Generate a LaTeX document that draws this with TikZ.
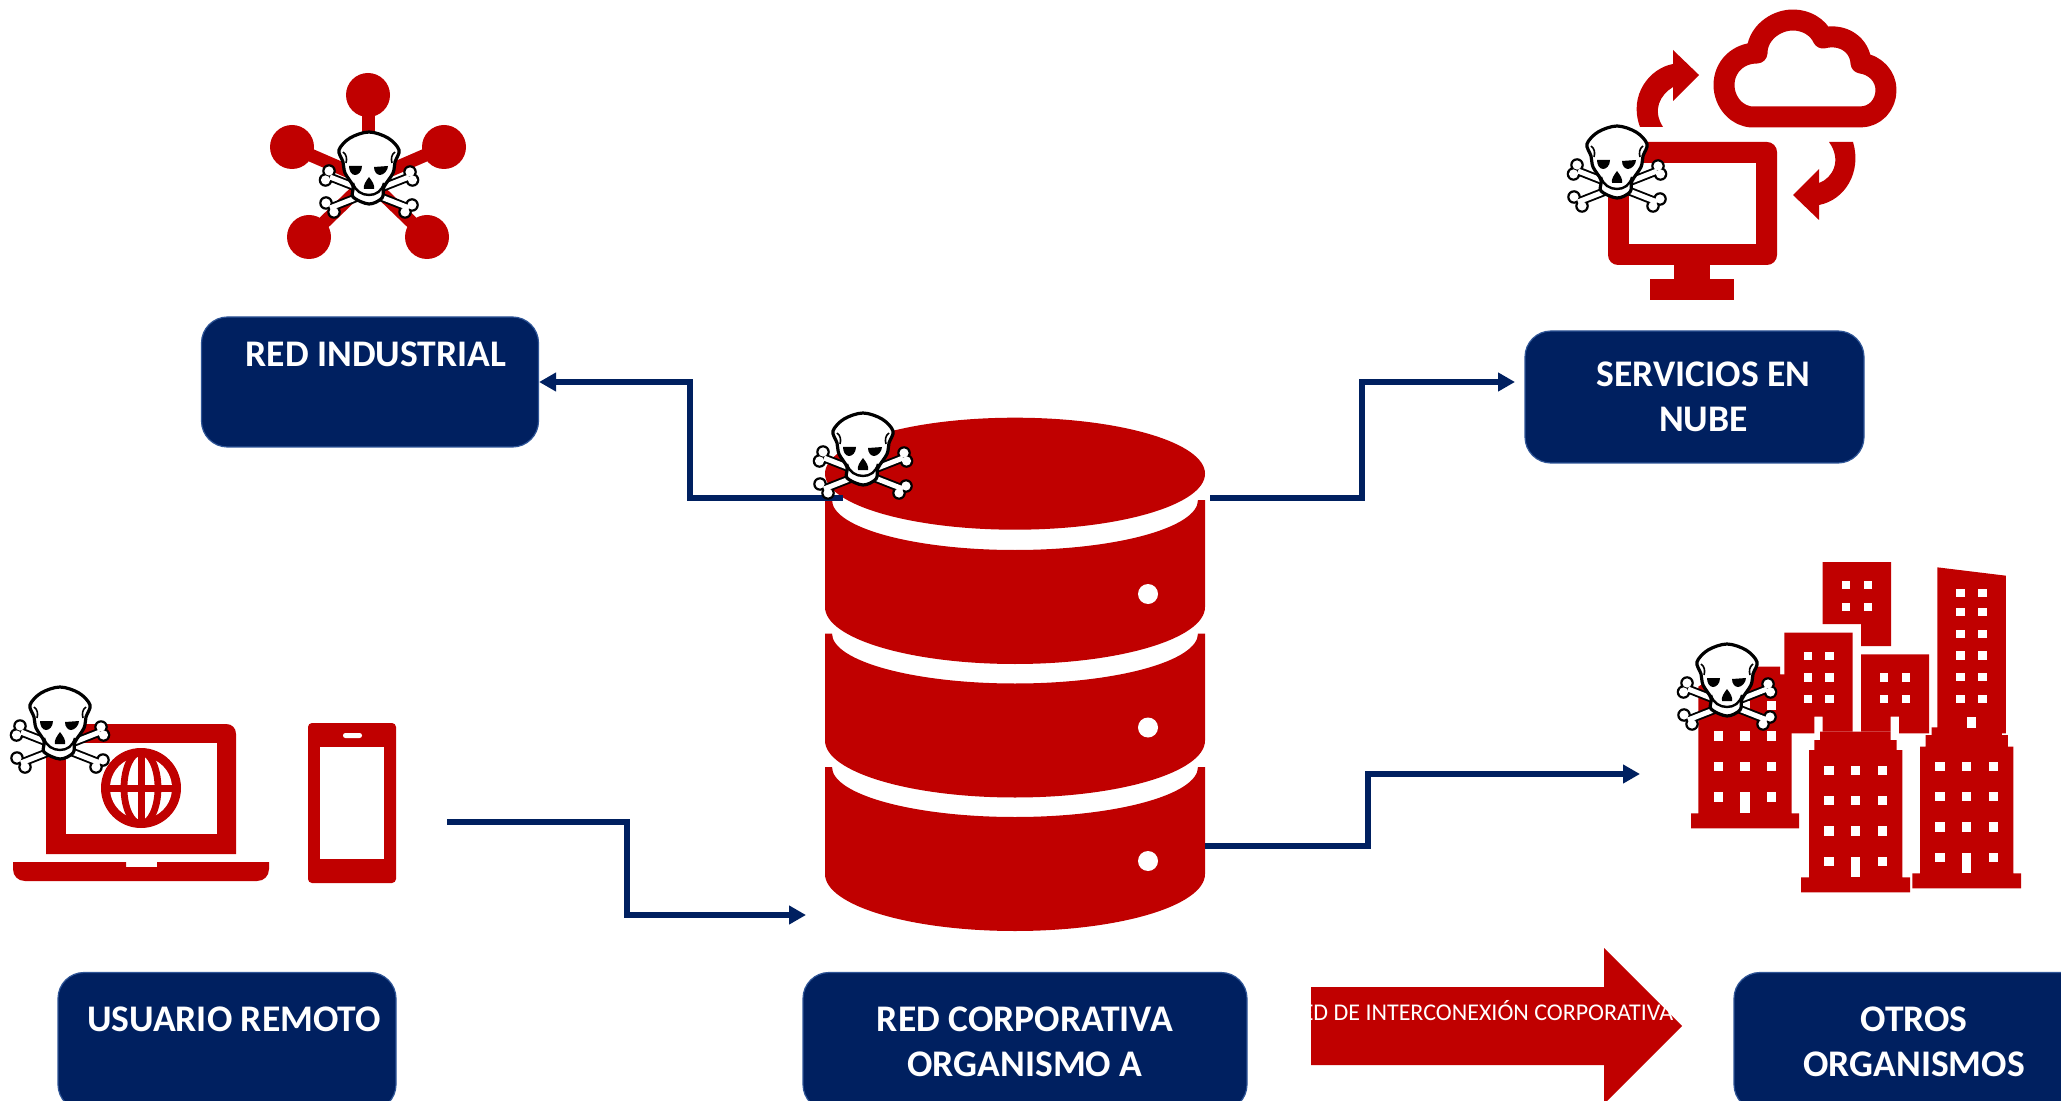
\documentclass[tikz,border=0pt]{standalone}
\usepackage{fontspec}
\setmainfont{Carlito}
\usetikzlibrary{calc}
\usetikzlibrary{arrows.meta}
\definecolor{orgred}{HTML}{C00000}
\definecolor{orgblue}{HTML}{002060}
\definecolor{orgline}{HTML}{2F5597}
\tikzstyle{block} = [draw=orgline, line width=0.6pt, fill=orgblue, rectangle, rounded corners=13pt,
    text=white, font=\bfseries\fontsize{18.8}{22.5}\selectfont, align=center, inner sep=0pt,
    minimum height=69pt]
\tikzstyle{link} = [draw=orgblue, line width=2.8pt]
\tikzstyle{icon} = [fill=orgred]
\tikzstyle{hole} = [fill=white]
\tikzstyle{input} = [coordinate]
\tikzset{skull/.pic={
    % bones first, the head goes over them
    \draw [line width=4.4pt] (-39,2) -- (40,33) (40,2) -- (-39,33);
    \foreach \bx/\by in {-40/-4,-43.5/5,43/30,36/37,41/-3,43.5/5,-43/28,-35/37}
        \fill (\bx,\by) circle [radius=6.8];
    \draw [white, line width=2.5pt] (-39,2) -- (40,33) (40,2) -- (-39,33);
    \foreach \bx/\by in {-40/-4,-43.5/5,43/30,36/37,41/-3,43.5/5,-43/28,-35/37}
        \fill [white] (\bx,\by) circle [radius=4.6];
    \draw [fill=white, line width=1.6pt] plot [smooth cycle, tension=0.55] coordinates {
        (0,-43) (-19,-37) (-30,-25) (-26,-13) (-24,-2) (-16,11) (-16,22) (0,29)
        (13,23) (15,12) (24,-2) (26,-13) (30,-25) (19,-37)};
    \fill (-20,-9) -- (-7,-9) .. controls (-7,-3) and (-11,0) .. (-14,0)
        .. controls (-18,0) and (-20,-5) .. cycle;
    \fill (19,-9) -- (5,-8) .. controls (5,-3) and (8,0) .. (11,0)
        .. controls (15,0) and (19,-5) .. cycle;
    \fill (0,2) .. controls (-3,6) and (-6,10) .. (-5,14) -- (5,14) .. controls (6,10) and (3,6) .. cycle;
    \draw [line width=1.2pt] (-16,8) .. controls (-14,16) and (-7,20) .. (0,20)
        .. controls (7,20) and (13,16) .. (15,8);
    \draw [line width=0.8pt] (-26,-23) .. controls (-22,-20) and (-22,-16) .. (-23,-12);
    \draw [line width=0.8pt] (26,-23) .. controls (22,-20) and (22,-16) .. (23,-12);
}}

\begin{document}
\begin{tikzpicture}[auto, x=0.5pt, y=-0.5pt, >={Triangle[length=8.5pt,width=9pt]}]
    \useasboundingbox (0,0) rectangle (2061,1101);

    % We start by placing the blocks
    \node [block, minimum width=168.5pt, minimum height=65pt] (redind) at (370,382)
        {\hspace*{6pt}RED INDUSTRIAL\\[5pt]\mbox{}};
    \node [block, minimum width=169.5pt, minimum height=66pt] (nube) at (1694.5,397)
        {\hspace*{9pt}SERVICIOS EN\\\hspace*{9pt}NUBE};
    \node [block, minimum width=169pt] (usuario) at (227,1041.5)
        {\hspace*{7pt}USUARIO REMOTO\\\mbox{}};
    \node [block, minimum width=222pt, node distance=399pt, right of=usuario] (corp)
        {RED CORPORATIVA\\ORGANISMO A};
    \node [block, minimum width=180pt, node distance=444.5pt, right of=corp] (otros)
        {OTROS\\ORGANISMOS};

    % the star network
    \foreach \cx/\cy in {368/95,292/147,444/147,309/237,427/237} {
        \draw [orgred, line width=6.5pt] (368,180) -- (\cx,\cy);
        \fill [icon] (\cx,\cy) circle [radius=22];
    }

    % the monitor and the cloud
    \fill [icon, rounded corners=5pt] (1608,142) rectangle (1777,265);
    \fill [hole] (1629,163) rectangle (1756,244);
    \fill [icon] (1674,260) rectangle (1710,280);
    \fill [icon] (1650,279) rectangle (1734,300);
    \draw [orgred, line width=10.5pt, line join=round] (1753,117)
        .. controls (1737,117) and (1724,102) .. (1724,85)
        .. controls (1724,67) and (1738,53) .. (1757,53)
        .. controls (1757,34) and (1775,20) .. (1793,20)
        .. controls (1806,20) and (1818,27) .. (1823,38)
        .. controls (1843,33) and (1860,45) .. (1861,63)
        .. controls (1875,65) and (1886,76) .. (1886,90)
        .. controls (1886,105) and (1875,117) .. (1860,117) -- cycle;
    \fill [icon] (1640,127) .. controls (1628,95) and (1650,68) .. (1673,64)
        -- (1673,50) -- (1699,75) -- (1673,101) -- (1673,87)
        .. controls (1660,95) and (1652,110) .. (1663,127) -- cycle;
    \fill [icon] (1853,142) .. controls (1862,172) and (1845,200) .. (1819,205)
        -- (1819,220) -- (1793,195) -- (1819,169) -- (1819,183)
        .. controls (1833,178) and (1842,160) .. (1829,142) -- cycle;

    % the laptop with its globe, and the phone
    \fill [icon] (46,854) -- (46,724) -- (226,724) .. controls (232,724) and (236,728) .. (236,734)
        -- (236,854) -- cycle;
    \fill [hole] (66,743) rectangle (217,834);
    \fill [icon] (141,788) circle [radius=40];
    \fill [hole] (141,788) circle [radius=31];
    \draw [orgred, line width=3.4pt] (141,788) ellipse [x radius=17, y radius=36];
    \draw [orgred, line width=3.5pt] (141,750) -- (141,826) (103,788) -- (179,788);
    \fill [icon] (13,862) -- (126,862) -- (126,867) -- (157,867) -- (157,862) -- (269,862)
        -- (269,869) .. controls (269,876) and (264,881) .. (257,881) -- (25,881)
        .. controls (18,881) and (13,876) .. (13,869) -- cycle;
    \fill [icon, rounded corners=2pt] (308,723) rectangle (396,883);
    \fill [hole] (320,747) rectangle (384,859);
    \fill [hole, rounded corners=1.2pt] (343,733) rectangle (362,738);

    % the buildings, in their own small units
    \begin{scope}[shift={(1660,550)}, x=0.1667pt, y=-0.1667pt]
        \fill [icon] (115,410) -- (200,350) -- (360,350) -- (360,373) -- (395,373) -- (395,790)
            -- (417,790) -- (417,835) -- (93,835) -- (93,790) -- (115,790) -- cycle;
        \fill [icon] (373,248) -- (578,248) -- (578,545) -- (488,545) -- (488,500) -- (463,500)
            -- (463,550) -- (373,550) -- cycle;
        \fill [icon] (603,313) -- (807,313) -- (807,550) -- (717,550) -- (717,500) -- (692,500)
            -- (692,545) -- (603,545) -- cycle;
        \fill [icon] (488,36) -- (693,36) -- (693,288) -- (603,288) -- (603,222) -- (488,222) -- cycle;
        \fill [icon] (447,600) -- (463,600) -- (463,570) -- (480,570) -- (480,545) -- (692,545)
            -- (692,570) -- (710,570) -- (710,600) -- (727,600) -- (727,982) -- (750,982)
            -- (750,1027) -- (423,1027) -- (423,982) -- (447,982) -- cycle;
        \fill [icon] (832,52) -- (1037,77) -- (1037,550) -- (1025,550) -- (1025,555) -- (1043,555)
            -- (1043,590) -- (1060,590) -- (1060,970) -- (1083,970) -- (1083,1015) -- (757,1015)
            -- (757,970) -- (780,970) -- (780,590) -- (797,590) -- (797,555) -- (815,555)
            -- (815,532) -- (832,532) -- cycle;
        % small windows
        \foreach \wx in {557,623} \foreach \wy in {105,170}
            \fill [hole] (\wx-12.5,\wy-12.5) rectangle +(25,25);
        \foreach \wx in {443,508} \foreach \wy in {317,382,447}
            \fill [hole] (\wx-12.5,\wy-12.5) rectangle +(25,25);
        \foreach \wx in {672,738} \foreach \wy in {382,447}
            \fill [hole] (\wx-12.5,\wy-12.5) rectangle +(25,25);
        \foreach \wx in {901,967} \foreach \wy in {129,186,251,316,381,446}
            \fill [hole] (\wx-12.5,\wy-12.5) rectangle +(25,25);
        \fill [hole] (921,500) rectangle (947,533);
        % large windows and doors
        \foreach \wx in {176,255,335} \foreach \wy in {467,558,650}
            \fill [hole] (\wx-14,\wy-14) rectangle +(28,28);
        \foreach \wx in {176,335} \fill [hole] (\wx-14,727) rectangle +(28,28);
        \fill [hole] (241,727) rectangle +(28,63);
        \foreach \wx in {507,587,667} \foreach \wy in {661,752,843}
            \fill [hole] (\wx-14,\wy-14) rectangle +(28,28);
        \foreach \wx in {507,667} \fill [hole] (\wx-14,920) rectangle +(28,28);
        \fill [hole] (573,920) rectangle +(28,62);
        \foreach \wx in {840,920,1000} \foreach \wy in {649,740,831}
            \fill [hole] (\wx-14,\wy-14) rectangle +(28,28);
        \foreach \wx in {840,1000} \fill [hole] (\wx-14,908) rectangle +(28,28);
        \fill [hole] (906,908) rectangle +(28,62);
    \end{scope}

    % the three discs of the main store
    \foreach \dy in {0,133.5,267} {
        \fill [icon] (825,500+\dy) -- (832,500+\dy)
            arc [start angle=180, end angle=0, x radius=183, y radius=50]
            -- (1205,500+\dy) -- (1205,607+\dy)
            arc [start angle=0, end angle=180, x radius=190, y radius=57] -- cycle;
        \fill [hole] (1148,594+\dy) circle [radius=10];
    }
    \fill [icon] (1015,473.7) ellipse [x radius=190, y radius=56];

    % the free ends of the connectors
    \node [input] (dbleft) at (843,498) {};
    \node [input] (dbright) at (1210,498) {};
    \node [input] (bendleft) at (690,382) {};
    \node [input] (bendright) at (1362,382) {};
    \node [input] (nubein) at (1515,382) {};
    \node [input] (remoto) at (447,822) {};
    \node [input] (bendremoto) at (627,915) {};
    \node [input] (dbin) at (806,915) {};
    \node [input] (dblow) at (1205,846) {};
    \node [input] (bendlow) at (1368,774) {};
    \node [input] (cityin) at (1640,774) {};

    % Once the nodes are placed, connecting them is easy.
    \draw [link, ->] (dbleft) -| (bendleft) -- (redind.east);
    \draw [link, ->] (dbright) -| (bendright) -- (nubein);
    \draw [link, ->] (remoto) -| (bendremoto) -- (dbin);
    \draw [link, ->] (dblow) -| (bendlow) -- (cityin);

    % the big arrow at the bottom
    \fill [icon] (1311,987) -- (1604,987) -- (1604,948) -- (1682,1026) -- (1604,1104)
        -- (1604,1065) -- (1311,1065) -- cycle;
    \node [text=white, font=\fontsize{12}{14}\selectfont, inner sep=0pt] (interlabel) at (1481,1011)
        {RED DE INTERCONEXIÓN CORPORATIVA};

    % and the skulls go over everything
    \pic at (369,175) {skull};
    \pic at (1617,169) {skull};
    \pic at (60,730) {skull};
    \pic at (1727,687) {skull};
    \pic at (863,456) {skull};
\end{tikzpicture}
\end{document}
